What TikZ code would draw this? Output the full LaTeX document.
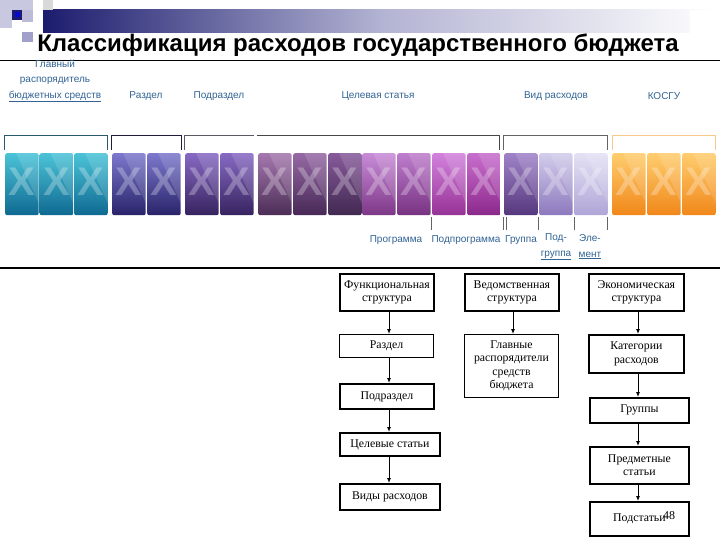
\documentclass[tikz,border=0pt]{standalone}
\usepackage{fontspec}
\setmainfont{Liberation Serif}
\newfontfamily\sansf{Liberation Sans}
\usetikzlibrary{arrows.meta}
\definecolor{lblc}{RGB}{50,100,150}
\definecolor{navy}{RGB}{28,28,110}
\definecolor{lav}{RGB}{200,200,225}
\definecolor{lavd}{RGB}{160,160,200}
\definecolor{aT}{RGB}{75,195,215}\definecolor{aB}{RGB}{15,105,145}
\definecolor{bT}{RGB}{125,120,205}\definecolor{bB}{RGB}{40,35,105}
\definecolor{cT}{RGB}{135,105,195}\definecolor{cB}{RGB}{55,35,95}
\definecolor{dT}{RGB}{165,120,175}\definecolor{dB}{RGB}{75,45,85}
\definecolor{eT}{RGB}{150,105,165}\definecolor{eB}{RGB}{70,40,85}
\definecolor{fT}{RGB}{135,90,155}\definecolor{fB}{RGB}{65,40,80}
\definecolor{gT}{RGB}{200,140,215}\definecolor{gB}{RGB}{125,55,135}
\definecolor{hT}{RGB}{190,125,205}\definecolor{hB}{RGB}{120,50,130}
\definecolor{iT}{RGB}{210,130,220}\definecolor{iB}{RGB}{150,50,150}
\definecolor{jT}{RGB}{200,110,205}\definecolor{jB}{RGB}{140,40,140}
\definecolor{kT}{RGB}{160,130,200}\definecolor{kB}{RGB}{85,55,125}
\definecolor{lT}{RGB}{210,205,235}\definecolor{lB}{RGB}{140,120,190}
\definecolor{mT}{RGB}{228,225,245}\definecolor{mB}{RGB}{175,165,215}
\definecolor{oT}{RGB}{255,205,110}\definecolor{oB}{RGB}{240,135,25}
\definecolor{br1}{RGB}{40,90,110}
\definecolor{br2}{RGB}{30,30,60}
\definecolor{br3}{RGB}{90,90,100}
\definecolor{br4}{RGB}{70,70,70}
\definecolor{br5}{RGB}{100,100,100}
\definecolor{br6}{RGB}{250,200,140}
\tikzset{
  tilebox/.style={rounded corners=2pt, minimum width=33.5pt, minimum height=62pt, inner sep=0pt, draw=none},
  xmark/.style={text=white, opacity=0.28, font=\sansf\bfseries\fontsize{40}{40}\selectfont, inner sep=0pt},
  toplbl/.style={text=lblc, font=\sansf\fontsize{10}{15.5}\selectfont, align=center, inner sep=0pt},
  fbox/.style={draw=black, line width=1.8pt, font=\fontsize{11.8}{13.5}\selectfont, align=center, inner sep=0pt, anchor=north west},
  thinbox/.style={fbox, line width=1pt},
  arr/.style={-{Latex[length=5pt,width=4pt]}, line width=0.9pt},
  tick/.style={draw=br5, line width=0.6pt},
}
\newcommand{\mytile}[4]{%
  \node[tilebox, top color=#3, bottom color=#4, anchor=north west] (#1) at (#2,153) {};
  \fill[white,opacity=0.13] ([xshift=11pt]#1.north west) -- (#1.north east) -- ([yshift=12pt]#1.south east) -- cycle;
  \node[xmark] (#1x) at ([yshift=2pt]#1.center) {X};
}
\newcommand{\mybox}[6]{% name, x, y, w, h, style ; text follows
  \node[#6, minimum width=#4pt, minimum height=#5pt] (#1) at (#2,#3)}
\begin{document}
\begin{tikzpicture}[x=1pt,y=-1pt]
\useasboundingbox (0,0) rectangle (720,540);
\fill[white] (0,0) rectangle (720,540);
% header decoration
\shade[left color=navy, right color=white, middle color=lavd!80!white] (43,10) rectangle (720,33);
\fill[white] (690,10) rectangle (720,33);
\fill[lav] (0,0) rectangle (12,28);
\fill[lav] (12,0) rectangle (33,10);
\fill[lavd!70!white] (22,10) rectangle (33,22);
\fill[navy] (12,10) rectangle (22,20);
\fill[blue!70!navy] (14.5,12.5) rectangle (19.5,17.5);
\fill[lavd] (22,32) rectangle (33,42);
\fill[gray!30] (43,0) rectangle (53,10);
% title
\node[font=\sansf\bfseries\fontsize{24}{27}\selectfont, inner sep=0pt] (title) at (358,45) {Классификация расходов государственного бюджета};
\coordinate (hl1a) at (0,60); \coordinate (hl1b) at (720,60);
\draw[line width=0.9pt] (hl1a) -- (hl1b);
\coordinate (hl2a) at (0,268); \coordinate (hl2b) at (720,268);
\draw[line width=1.3pt] (hl2a) -- (hl2b);
% top labels
\node[toplbl] (lglav) at (55,81) {Главный\\распорядитель\\\underline{бюджетных средств}};
\node[toplbl] (lrazd) at (146,96) {Раздел};
\node[toplbl] (lpodr) at (219,96) {Подраздел};
\node[toplbl] (lcel) at (378,96) {Целевая статья};
\node[toplbl] (lvid) at (556,96) {Вид расходов};
\node[toplbl] (lkos) at (664,96) {КОСГУ};
% brackets
\draw[br1, line width=0.8pt] (4,150) -- (4,135) -- (107,135) -- (107,150);
\draw[br2, line width=0.8pt] (111,150) -- (111,135) -- (181,135) -- (181,150);
\draw[br3, line width=0.8pt] (184,150) -- (184,135) -- (254,135);
\draw[br4, line width=0.8pt] (257,135) -- (499,135) -- (499,150);
\draw[br5, line width=0.8pt] (503,150) -- (503,135) -- (607,135) -- (607,150);
\draw[br6, line width=0.8pt] (612,150) -- (612,135) -- (715,135) -- (715,150);
% tiles
\mytile{t1}{5}{aT}{aB}
\mytile{t2}{39.5}{aT}{aB}
\mytile{t3}{74}{aT}{aB}
\mytile{t4}{112}{bT}{bB}
\mytile{t5}{147}{bT}{bB}
\mytile{t6}{185}{cT}{cB}
\mytile{t7}{220}{cT}{cB}
\mytile{t8}{258}{dT}{dB}
\mytile{t9}{293}{eT}{eB}
\mytile{t10}{328}{fT}{fB}
\mytile{t11}{362}{gT}{gB}
\mytile{t12}{397}{hT}{hB}
\mytile{t13}{432}{iT}{iB}
\mytile{t14}{467}{jT}{jB}
\mytile{t15}{504}{kT}{kB}
\mytile{t16}{539}{lT}{lB}
\mytile{t17}{574}{mT}{mB}
\mytile{t18}{612}{oT}{oB}
\mytile{t19}{647}{oT}{oB}
\mytile{t20}{682}{oT}{oB}
% ticks
\foreach \tx in {431,503,506,538,574,607} {\draw[tick] (\tx,217) -- (\tx,230);}
% bottom labels
\node[toplbl] (lprog) at (396,240) {Программа};
\node[toplbl] (lpodp) at (466,240) {Подпрограмма};
\node[toplbl] (lgr) at (521,240) {Группа};
\node[toplbl] (lpodg) at (556,247) {Под-\\\underline{группа}};
\node[toplbl] (lel) at (590,247) {Эле-\\\underline{мент}};
% flowchart column 1
\mybox{f1}{339}{273}{94}{37}{fbox} {Функциональная\\структура};
\mybox{f2}{339}{334}{94}{23}{thinbox} {Раздел};
\mybox{f3}{339}{383}{94}{25}{fbox} {Подраздел};
\mybox{f4}{339}{432}{100}{23}{fbox} {Целевые статьи};
\mybox{f5}{339}{483}{100}{26}{fbox} {Виды расходов};
\coordinate (c1) at (389,0);
\draw[arr] (f1.south -| c1) -- (f2.north -| c1);
\draw[arr] (f2.south -| c1) -- (f3.north -| c1);
\draw[arr] (f3.south -| c1) -- (f4.north -| c1);
\draw[arr] (f4.south -| c1) -- (f5.north -| c1);
% column 2
\mybox{v1}{464}{273}{94}{37}{fbox} {Ведомственная\\структура};
\mybox{v2}{464}{334}{94}{63}{thinbox} {Главные\\распорядители\\средств\\бюджета};
\coordinate (c2) at (513,0);
\draw[arr] (v1.south -| c2) -- (v2.north -| c2);
% column 3
\mybox{e1}{588}{273}{95}{37}{fbox} {Экономическая\\структура};
\mybox{e2}{588}{334}{95}{38}{fbox} {Категории\\расходов};
\mybox{e3}{589}{397}{99}{25}{fbox} {Группы};
\mybox{e4}{589}{446}{99}{37}{fbox} {Предметные\\статьи};
\mybox{e5}{589}{501}{99}{34}{fbox} {Подстатьи};
\coordinate (c3) at (638,0);
\draw[arr] (e1.south -| c3) -- (e2.north -| c3);
\draw[arr] (e2.south -| c3) -- (e3.north -| c3);
\draw[arr] (e3.south -| c3) -- (e4.north -| c3);
\draw[arr] (e4.south -| c3) -- (e5.north -| c3);
% page number
\node[font=\fontsize{12}{12}\selectfont, inner sep=0pt] (pnum) at (669,516) {48};
\end{tikzpicture}
\end{document}
